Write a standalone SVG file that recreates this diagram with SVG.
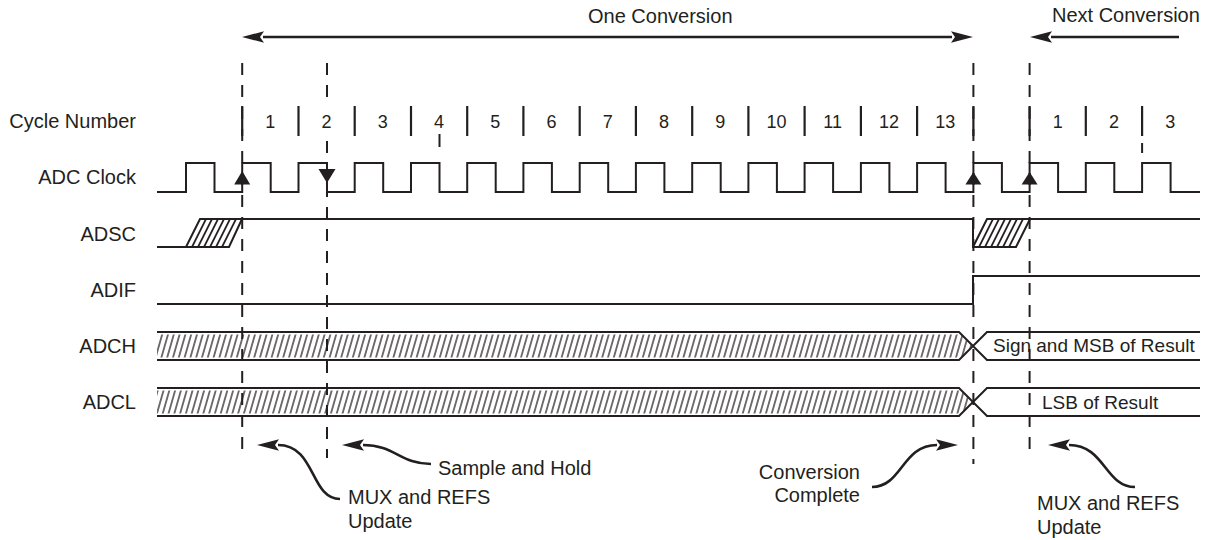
<svg xmlns="http://www.w3.org/2000/svg" width="1215" height="540" viewBox="0 0 1215 540">
<style>
  text { font-family: "Liberation Sans", Arial, Helvetica, sans-serif; fill: #231f20; }
  .lbl { font-size: 20px; text-anchor: end; }
  .num { font-size: 18px; text-anchor: middle; }
  .txt { font-size: 20px; }
  .bus { font-size: 19px; }
  .sig { fill: none; stroke: #231f20; stroke-width: 2; stroke-linejoin: miter; }
  .tick { stroke: #231f20; stroke-width: 2.2; }
  .dash { fill: none; stroke: #231f20; stroke-width: 2; stroke-dasharray: 12 10; }
  .hl { stroke: #231f20; stroke-width: 1.7; }
  .arr { fill: none; stroke: #231f20; stroke-width: 2.6; }
  .tri { fill: #231f20; }
</style>
<defs>
  <marker id="ah" markerUnits="userSpaceOnUse" markerWidth="24" markerHeight="14" viewBox="0 0 24 14" refX="1" refY="7" orient="auto-start-reverse">
    <path d="M0,1.3 L22,7 L0,12.7 L4,7 Z" fill="#231f20"/>
  </marker>
  <pattern id="hatch" width="5.8" height="10" patternUnits="userSpaceOnUse" patternTransform="skewX(-16)">
    <line x1="2.9" y1="-1" x2="2.9" y2="11" stroke="#231f20" stroke-width="1.3"/>
  </pattern>
</defs>
<rect width="1215" height="540" fill="#ffffff"/>

<g id="labels">
  <text class="lbl" x="136" y="128">Cycle Number</text>
  <text class="lbl" x="136" y="184">ADC Clock</text>
  <text class="lbl" x="136" y="241">ADSC</text>
  <text class="lbl" x="136" y="297">ADIF</text>
  <text class="lbl" x="136" y="353">ADCH</text>
  <text class="lbl" x="136" y="409">ADCL</text>
</g>

<g id="cycle-numbers">
  <g class="tick">
    <line x1="242.2" y1="106" x2="242.2" y2="136"/>
    <line x1="298.5" y1="106" x2="298.5" y2="136"/>
    <line x1="354.7" y1="106" x2="354.7" y2="136"/>
    <line x1="411" y1="106" x2="411" y2="136"/>
    <line x1="467.2" y1="106" x2="467.2" y2="136"/>
    <line x1="523.4" y1="106" x2="523.4" y2="136"/>
    <line x1="579.7" y1="106" x2="579.7" y2="136"/>
    <line x1="635.9" y1="106" x2="635.9" y2="136"/>
    <line x1="692.2" y1="106" x2="692.2" y2="136"/>
    <line x1="748.4" y1="106" x2="748.4" y2="136"/>
    <line x1="804.6" y1="106" x2="804.6" y2="136"/>
    <line x1="860.9" y1="106" x2="860.9" y2="136"/>
    <line x1="917.1" y1="106" x2="917.1" y2="136"/>
    <line x1="973.4" y1="106" x2="973.4" y2="136"/>
    <line x1="1029.6" y1="106" x2="1029.6" y2="136"/>
    <line x1="1085.8" y1="106" x2="1085.8" y2="136"/>
    <line x1="1142.1" y1="106" x2="1142.1" y2="136"/>
    <line x1="439.5" y1="134" x2="439.5" y2="147" stroke-width="2"/>
    <line x1="1142.1" y1="143" x2="1142.1" y2="153" stroke-width="2"/>
  </g>
  <text class="num" x="270.3" y="128">1</text>
  <text class="num" x="326.6" y="128">2</text>
  <text class="num" x="382.8" y="128">3</text>
  <text class="num" x="439.1" y="128">4</text>
  <text class="num" x="495.3" y="128">5</text>
  <text class="num" x="551.5" y="128">6</text>
  <text class="num" x="607.8" y="128">7</text>
  <text class="num" x="664" y="128">8</text>
  <text class="num" x="720.3" y="128">9</text>
  <text class="num" x="776.5" y="128">10</text>
  <text class="num" x="832.7" y="128">11</text>
  <text class="num" x="889" y="128">12</text>
  <text class="num" x="945.2" y="128">13</text>
  <text class="num" x="1057.7" y="128">1</text>
  <text class="num" x="1114" y="128">2</text>
  <text class="num" x="1170.2" y="128">3</text>
</g>

<g id="adc-clock">
  <path class="sig" d="M157,192 H186 V163 H214.5 V192 H242.2 V163 H270.7 V192 H298.5 V163 H327 V192 H354.7 V163 H383.2 V192 H411 V163 H439.5 V192 H467.2 V163 H495.7 V192 H523.4 V163 H551.9 V192 H579.7 V163 H608.2 V192 H635.9 V163 H664.4 V192 H692.2 V163 H720.7 V192 H748.4 V163 H776.9 V192 H804.6 V163 H833.1 V192 H860.9 V163 H889.4 V192 H917.1 V163 H945.6 V192 H973.4 V163 H1001.9 V192 H1029.6 V163 H1058.1 V192 H1085.8 V163 H1114.3 V192 H1142.1 V163 H1170.6 V192 H1200"/>
  <polygon class="tri" points="234.2,184.5 250.2,184.5 242.2,171"/>
  <polygon class="tri" points="318.5,169 335.5,169 327,183"/>
  <polygon class="tri" points="965.4,184.5 981.4,184.5 973.4,172"/>
  <polygon class="tri" points="1021.6,184.5 1037.6,184.5 1029.6,172"/>
</g>

<g id="adsc">
  <path class="sig" d="M157,247 H186 L200,219 H973 V247 H1016 L1030,219 H1200"/>
  <path class="sig" d="M186,247 H229 L242,219"/>
  <path class="sig" d="M973,247 L987,219 H1030"/>
  <g class="hl">
    <line x1="192" y1="247" x2="206" y2="219"/>
    <line x1="198" y1="247" x2="212" y2="219"/>
    <line x1="204" y1="247" x2="218" y2="219"/>
    <line x1="210" y1="247" x2="224" y2="219"/>
    <line x1="216" y1="247" x2="230" y2="219"/>
    <line x1="222" y1="247" x2="236" y2="219"/>
    <line x1="979" y1="247" x2="993" y2="219"/>
    <line x1="985" y1="247" x2="999" y2="219"/>
    <line x1="991" y1="247" x2="1005" y2="219"/>
    <line x1="997" y1="247" x2="1011" y2="219"/>
    <line x1="1003" y1="247" x2="1017" y2="219"/>
    <line x1="1009" y1="247" x2="1023" y2="219"/>
  </g>
</g>

<g id="adif">
  <path class="sig" d="M157,304 H973 V276 H1200"/>
</g>

<g id="adch">
  <polygon points="157,334.5 961,334.5 972,346 961,357.5 157,357.5" fill="url(#hatch)"/>
  <path class="sig" d="M157,332 H959 L987,360 H1200 M157,360 H959 L987,332 H1200"/>
  <text class="bus" x="993" y="352">Sign and MSB of Result</text>
</g>

<g id="adcl">
  <polygon points="157,390.5 961,390.5 972,402 961,413.5 157,413.5" fill="url(#hatch)"/>
  <path class="sig" d="M157,388 H959 L987,416 H1200 M157,416 H959 L987,388 H1200"/>
  <text class="bus" x="1042" y="409">LSB of Result</text>
</g>

<g id="markers-dashed">
  <path class="dash" d="M242.2,63 V458"/>
  <path class="dash" d="M327,63 V102 M327,141 V458"/>
  <path class="dash" d="M973.4,63 V464"/>
  <path class="dash" d="M1029.6,63 V456"/>
</g>

<g id="connectors">
  <path class="arr" d="M263,37 H952" marker-start="url(#ah)" marker-end="url(#ah)"/>
  <path class="arr" d="M1179,37 H1051" marker-end="url(#ah)"/>
  <path class="arr" d="M340,499 C310,499 316,445 278,445" marker-end="url(#ah)"/>
  <path class="arr" d="M431,464 C400,464 395,445 363,445" marker-end="url(#ah)"/>
  <path class="arr" d="M872,487 C902,487 902,445 937,445" marker-end="url(#ah)"/>
  <path class="arr" d="M1135,487 C1105,487 1105,445 1069,445" marker-end="url(#ah)"/>
</g>

<g id="annotations">
  <text class="txt" x="588" y="23">One Conversion</text>
  <text class="txt" x="1052" y="22">Next Conversion</text>
  <text class="txt" x="438" y="475">Sample and Hold</text>
  <text class="txt" x="348" y="504">MUX and REFS</text>
  <text class="txt" x="348" y="528">Update</text>
  <text class="txt" x="860" y="479" text-anchor="end">Conversion</text>
  <text class="txt" x="860" y="502" text-anchor="end">Complete</text>
  <text class="txt" x="1037" y="510">MUX and REFS</text>
  <text class="txt" x="1037" y="534">Update</text>
</g>
</svg>
